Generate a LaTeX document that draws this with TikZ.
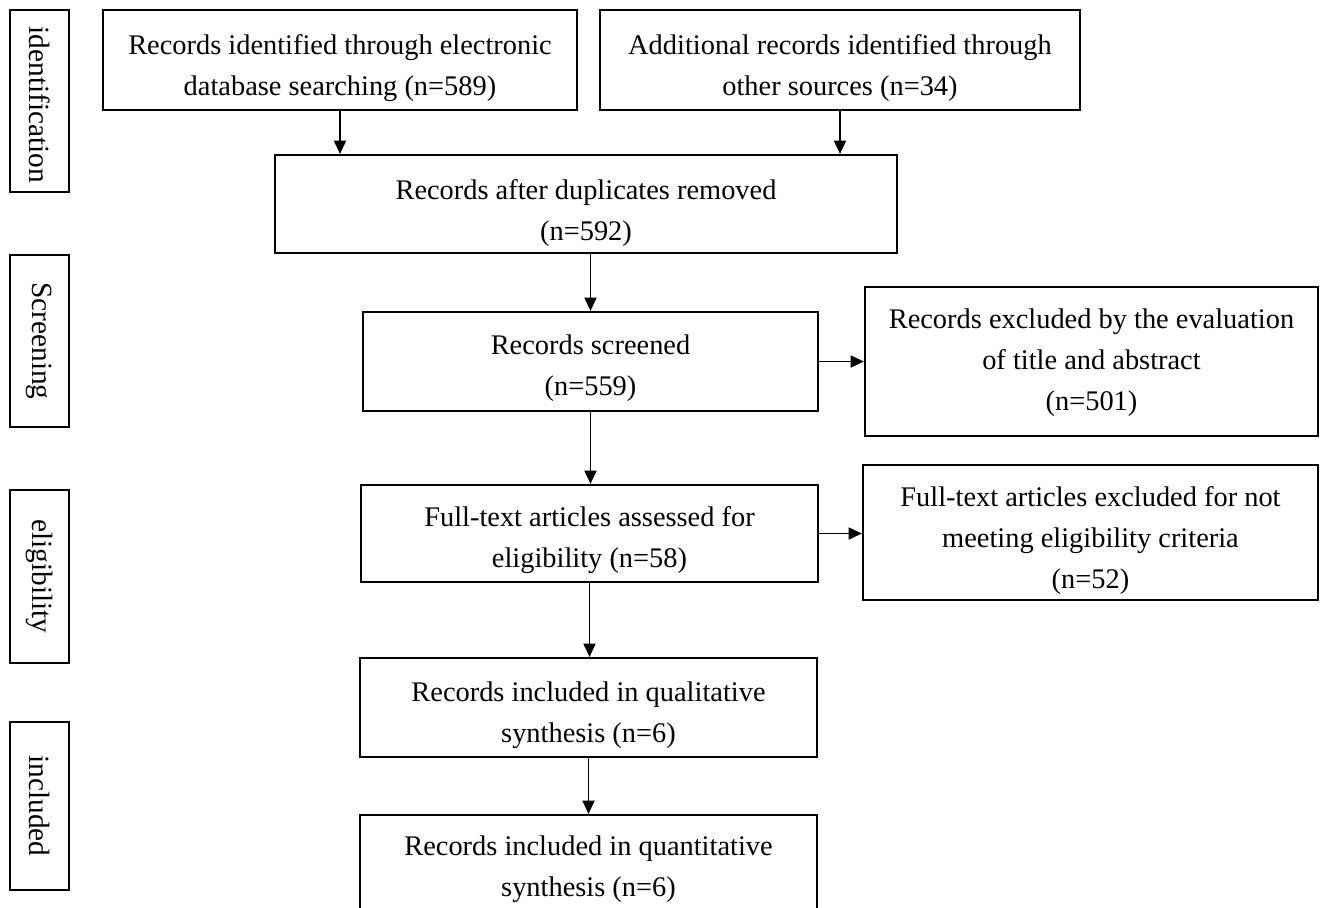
\documentclass[tikz,border=0pt]{standalone}
\usepackage{fontspec}
\setmainfont{Liberation Serif}
\usetikzlibrary{arrows.meta}
\tikzset{
  box/.style={draw, line width=1.6pt, inner sep=0pt, fill=white},
  txt/.style={align=center, inner sep=0pt},
  side/.style={draw, line width=1.6pt, inner sep=0pt, rotate=-90, minimum height={59*0.75pt}},
  sidetxt/.style={inner sep=0pt, rotate=-90, font=\fontsize{22}{30}\selectfont},
  flow/.style={line width=1.4pt, -{Triangle[length=10pt,width=9pt]}}
}
% #1 name, #2 cx, #3 cy, #4 width px, #5 height px, #6 text shift px, #7 text
\newcommand\flowbox[7]{%
  \node[box, minimum width={#4*0.75pt}, minimum height={#5*0.75pt}] (#1) at (#2,#3) {};
  \node[txt] (#1t) at ([yshift={-#6*0.75pt}]#1.center) {#7};
}
% #1 name, #2 cy, #3 length px, #4 text shift px, #5 text
\newcommand\sidebox[5]{%
  \node[side, minimum width={#3*0.75pt}] (#1) at (39.5,#2) {};
  \node[sidetxt] (#1t) at ([yshift={-#4*0.75pt}]#1.center) {#5};
}
\begin{document}
\begin{tikzpicture}[x=0.75pt,y=-0.75pt,font=\fontsize{21.3}{30.75}\selectfont]
\useasboundingbox (0,0) rectangle (1321,907);
\clip (0,0) rectangle (1321,907);
% side labels
\sidebox{L1}{101}{182}{4}{identification}
\sidebox{L2}{341}{172}{0}{Screening}
\sidebox{L3}{576.5}{173}{0}{eligibility}
\sidebox{L4}{806}{168}{0}{included}
% main boxes
\flowbox{A}{340}{60}{474}{100}{8}{Records identified through electronic\\database searching (n=589)}
\flowbox{B}{840}{60}{480}{100}{8}{Additional records identified through\\other sources (n=34)}
\flowbox{C}{586}{204}{622}{98}{9}{Records after duplicates removed\\(n=592)}
\flowbox{D}{590.5}{361.5}{455}{99}{7}{Records screened\\(n=559)}
\flowbox{E}{1091.5}{361.5}{453}{149}{1}{Records excluded by the evaluation\\of title and abstract\\(n=501)}
\flowbox{F}{589.5}{533.5}{457}{97}{7}{Full-text articles assessed for\\eligibility (n=58)}
\flowbox{G}{1090.5}{532.5}{455}{135}{8}{Full-text articles excluded for not\\meeting eligibility criteria\\(n=52)}
\flowbox{H}{588.5}{707.5}{457}{99}{8}{Records included in qualitative\\synthesis (n=6)}
\flowbox{I}{588.5}{865}{457}{100}{4}{Records included in quantitative\\synthesis (n=6)}
% connectors
\draw[flow] (A.south) -- (A.south |- C.north);
\draw[flow] (B.south) -- (B.south |- C.north);
\draw[flow] (D.north |- C.south) -- (D.north);
\draw[flow] (D.east) -- (E.west);
\draw[flow] (D.south) -- (D.south |- F.north);
\draw[flow] (F.east) -- (F.east -| G.west);
\draw[flow] (F.south) -- (F.south |- H.north);
\draw[flow] (H.south) -- (H.south |- I.north);
\end{tikzpicture}
\end{document}
